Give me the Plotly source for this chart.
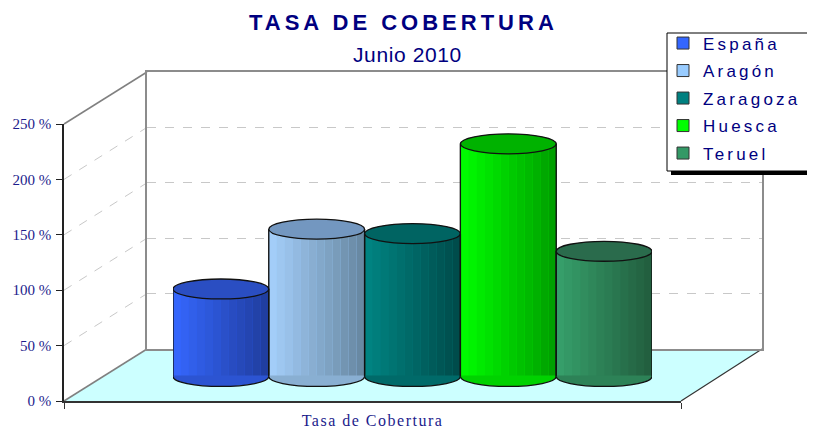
import plotly.graph_objects as go

# ---------------- data ----------------
regions = ["España", "Aragón", "Zaragoza", "Huesca", "Teruel"]
tasa_cobertura = [79, 133, 129, 210, 113]
category = ["Tasa de Cobertura"]
y_tick_values = [0, 50, 100, 150, 200, 250]
y_tick_labels = ["0 %", "50 %", "100 %", "150 %", "200 %", "250 %"]
chart_title = "TASA DE COBERTURA"
chart_subtitle = "Junio 2010"

# ---------------- styles ----------------
legend_colors = ["#3366ff", "#99ccff", "#008080", "#00ff00", "#339966"]
body_light = ["#3668ff", "#a6d0fc", "#008583", "#00ff00", "#37a16c"]
body_dark = ["#1f3c9c", "#66869f", "#004a49", "#009c00", "#215c3d"]
top_colors = ["#2a4ec2", "#7397c0", "#006462", "#00b200", "#2a6b4c"]

# the page body has an 8px margin, so the figure is placed at (8, 8) in the window
OFF = 8
W, H = 815 - OFF, 429 - OFF
NAVY = "#000080"
LABEL = "#1c1c8c"
SANS = "Arial, Liberation Sans, sans-serif"
SERIF = "Times New Roman, Liberation Serif, serif"
PX_PER_PCT = 277 / 250.0
E = 9          # half height of cylinder ellipses (in % units)
KAPPA = 0.5523  # bezier constant for ellipse arcs
COVER = 1.0     # small overlap so the bottom cap hides the bar's base edge


def fx(px):
    return (px - OFF) / W


def fy(py):
    return 1 - (py - OFF) / H


def ydomain(zero_px, lo, hi):
    return [fy(zero_px - PX_PER_PCT * lo), fy(zero_px - PX_PER_PCT * hi)]


def mix(c1, c2, t):
    a = [int(c1[j:j + 2], 16) for j in (1, 3, 5)]
    b = [int(c2[j:j + 2], 16) for j in (1, 3, 5)]
    return "#%02x%02x%02x" % tuple(round(a[j] + (b[j] - a[j]) * t) for j in range(3))


def lower_half(xc, close):
    x0, x1 = xc - 0.5, xc + 0.5
    p = (f"M {x0},0 C {x0},{-KAPPA * E} {xc - KAPPA * 0.5},{-E} {xc},{-E} "
         f"C {xc + KAPPA * 0.5},{-E} {x1},{-KAPPA * E} {x1},0")
    if close:
        p += f" L {x1},{COVER} L {x0},{COVER} Z"
    return p


fig = go.Figure()

# empty traces so that the wall and front-axis subplots are rendered
fig.add_trace(go.Scatter(x=[], y=[], xaxis="x", yaxis="y", showlegend=False, hoverinfo="skip"))
fig.add_trace(go.Scatter(x=[], y=[], xaxis="x2", yaxis="y2", showlegend=False, hoverinfo="skip"))

N = 12
for i, (name, val) in enumerate(zip(regions, tasa_cobertura)):
    fig.add_trace(go.Bar(
        x=[i], y=[val], width=1,
        name=f'<span style="letter-spacing:3.2px">{name}</span>',
        legendgroup=name,
        marker=dict(color=legend_colors[i], line=dict(width=1, color="#333333")),
        xaxis="x3", yaxis="y3", hoverinfo="skip"))
    for k in range(N):
        t = (k + 0.5) / N
        fig.add_trace(go.Bar(
            x=[i], y=[val], width=1.0 / N, offset=-0.5 + k / N,
            legendgroup=name,
            marker=dict(color=mix(body_light[i], body_dark[i], t), line=dict(width=0)),
            showlegend=False, xaxis="x3", yaxis="y3", hoverinfo="skip"))

shapes = []
# floor
shapes.append(dict(type="path", xref="paper", yref="paper", layer="below",
                   path=f"M {fx(64)},{fy(401)} L {fx(681)},{fy(401)} L {fx(762)},{fy(349)} L {fx(147)},{fy(349)} Z",
                   fillcolor="#ccffff", line=dict(width=0)))
shapes.append(dict(type="line", xref="paper", yref="paper", layer="below",
                   x0=fx(64), y0=fy(401), x1=fx(147), y1=fy(349), line=dict(color="#808080", width=1.5)))
shapes.append(dict(type="line", xref="paper", yref="paper", layer="below",
                   x0=fx(681), y0=fy(401), x1=fx(762), y1=fy(349), line=dict(color="#333333", width=1.2)))
# left wall
shapes.append(dict(type="line", xref="paper", yref="paper", layer="below",
                   x0=fx(64), y0=fy(401 - PX_PER_PCT * 250), x1=fx(147), y1=fy(349 - PX_PER_PCT * 250),
                   line=dict(color="#808080", width=1.5)))
for v in y_tick_values[1:-1]:
    shapes.append(dict(type="line", xref="paper", yref="paper", layer="below",
                       x0=fx(64), y0=fy(401 - PX_PER_PCT * v), x1=fx(147), y1=fy(349 - PX_PER_PCT * v),
                       line=dict(color="#c8c8c8", width=1, dash="dash")))

# cylinders decoration
for i, val in enumerate(tasa_cobertura):
    shade = mix(body_light[i], body_dark[i], 0.45)
    shapes.append(dict(type="path", xref="x3", yref="y3", layer="above",
                       path=lower_half(i, True), fillcolor=shade, line=dict(width=0)))
    shapes.append(dict(type="path", xref="x3", yref="y3", layer="above",
                       path=lower_half(i, False), fillcolor="rgba(0,0,0,0)",
                       line=dict(color="#111111", width=1.3)))
    for side in (-0.5, 0.5):
        shapes.append(dict(type="line", xref="x3", yref="y3", layer="above",
                           x0=i + side, x1=i + side, y0=0, y1=val,
                           line=dict(color="#111111", width=1.3)))
    shapes.append(dict(type="circle", xref="x3", yref="y3", layer="above",
                       x0=i - 0.5, x1=i + 0.5, y0=val - E, y1=val + E,
                       fillcolor=top_colors[i], line=dict(color="#111111", width=1.3)))

# legend shadow and frame
shapes.append(dict(type="rect", xref="paper", yref="paper", layer="above",
                   x0=fx(671), x1=fx(840), y0=fy(175), y1=fy(37),
                   fillcolor="#000000", line=dict(width=0)))
shapes.append(dict(type="rect", xref="paper", yref="paper", layer="above",
                   x0=fx(667), x1=fx(835), y0=fy(171), y1=fy(33),
                   fillcolor="#ffffff", line=dict(color="#000000", width=1)))

annotations = [
    dict(text=f'<span style="letter-spacing:4px"><b>{chart_title}</b></span>',
         x=fx(403), y=fy(22), xref="paper", yref="paper", xanchor="center", yanchor="middle",
         showarrow=False, font=dict(family=SANS, size=22, color=NAVY)),
    dict(text=f'<span style="letter-spacing:0.6px">{chart_subtitle}</span>',
         x=fx(407), y=fy(54), xref="paper", yref="paper", xanchor="center", yanchor="middle",
         showarrow=False, font=dict(family=SANS, size=21, color=NAVY)),
]

fig.update_layout(
    width=W, height=H,
    margin=dict(l=0, r=0, t=0, b=0, pad=0, autoexpand=False),
    paper_bgcolor="white", plot_bgcolor="rgba(0,0,0,0)",
    barmode="overlay",
    showlegend=True,
    legend=dict(x=fx(663), y=fy(25.5), xanchor="left", yanchor="top",
                bgcolor="rgba(0,0,0,0)", borderwidth=0,
                font=dict(family=SANS, size=17, color=NAVY),
                itemwidth=30, traceorder="grouped", tracegroupgap=2.4),
    # back wall
    xaxis=dict(domain=[fx(147), fx(762)], range=[0, 1], anchor="y",
               showline=True, linecolor="#8c8c8c", linewidth=2, mirror=True,
               showgrid=False, zeroline=False, showticklabels=False, ticks="", fixedrange=True),
    yaxis=dict(domain=ydomain(349, 0, 250), range=[0, 250], anchor="x",
               tickvals=y_tick_values[1:-1], showgrid=True, gridcolor="#c8c8c8",
               griddash="dash", gridwidth=1,
               showline=True, linecolor="#8c8c8c", linewidth=2, mirror=True,
               zeroline=False, showticklabels=False, ticks="", fixedrange=True),
    # front axes
    xaxis2=dict(domain=[fx(64), fx(681)], range=[-0.5, 0.5], anchor="y2",
                showline=True, linecolor="#333333", linewidth=2,
                tickvals=[0], ticktext=[f'<span style="letter-spacing:1.5px">{category[0]}</span>'],
                ticks="", ticklabelstandoff=4,
                minor=dict(tickvals=[-0.5, 0.5], ticks="outside", ticklen=6,
                           tickcolor="#333333", tickwidth=1, showgrid=False),
                tickfont=dict(family=SERIF, size=16, color=LABEL),
                showgrid=False, zeroline=False, fixedrange=True),
    yaxis2=dict(domain=ydomain(401, 0, 250), range=[0, 250], anchor="x2",
                tickvals=y_tick_values, ticktext=y_tick_labels,
                ticks="outside", ticklen=6, tickcolor="#222222", tickwidth=1,
                showline=True, linecolor="#222222", linewidth=1.5,
                showgrid=False, zeroline=False, ticklabelstandoff=2,
                tickfont=dict(family=SERIF, size=15, color=LABEL), fixedrange=True),
    # bars
    xaxis3=dict(domain=[fx(173), fx(652)], range=[-0.5, len(regions) - 0.5], anchor="y3",
                visible=False, fixedrange=True),
    yaxis3=dict(domain=ydomain(376.5, -20, 260), range=[-20, 260], anchor="x3",
                visible=False, fixedrange=True),
    shapes=shapes,
    annotations=annotations,
)

fig.write_html("out.html")
